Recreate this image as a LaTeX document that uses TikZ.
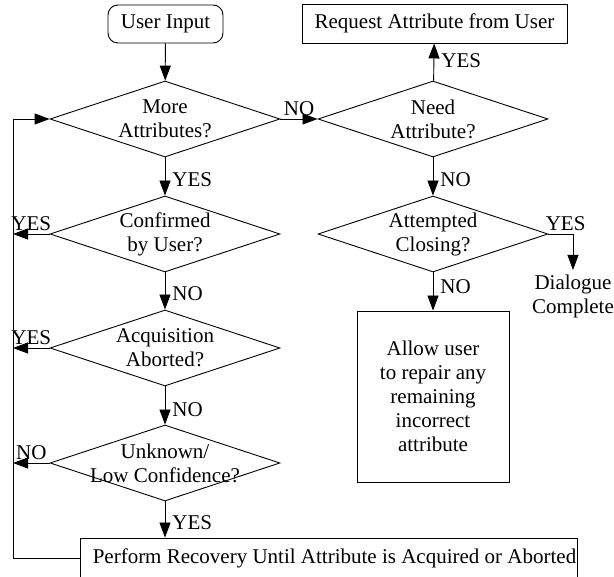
\documentclass[tikz,border=0pt]{standalone}
\usepackage{fontspec}
\setmainfont{Liberation Serif}
\usetikzlibrary{arrows.meta, shapes.geometric, positioning}

\begin{document}
\begin{tikzpicture}[
    x=1pt, y=-1pt, line width=0.9pt,
    font=\fontsize{21}{24}\selectfont,
    % Define styles for reusable components
    decision/.style={draw, diamond, minimum width=230pt, minimum height=76pt, inner sep=0pt},
    process/.style={draw, rectangle, align=center, inner sep=0pt},
    start/.style={draw, rounded corners=10pt, minimum width=115pt, minimum height=38pt},
    arrow/.style={-{Triangle[length=15pt, width=11pt]}},
    answer/.style={inner sep=4pt, xshift=3pt}
]
    \useasboundingbox (0,0) rectangle (614,577);

    % --- LEFT COLUMN: acquiring attributes ---
    \node[start] (input) at (165.5,24) {User Input};
    \node[decision, label={[align=center]center:More\\Attributes?}] (more) at (165,119) {};
    \node[decision, label={[align=center]center:Confirmed\\by User?}] (confirm) at (165,234) {};
    \node[decision, label={[align=center]center:Acquisition\\Aborted?}] (aborted) at (165,348) {};
    \node[decision, label={[align=center]center:Unknown/\\Low Confidence?}] (unknown) at (165,463) {};
    \node[process, minimum width=497pt, minimum height=41pt,
        label={[xshift=6pt]center:Perform Recovery Until Attribute is Acquired or Aborted}]
        (recover) at (328.5,558.5) {};
    \coordinate (loop) at (13,0);

    % --- RIGHT COLUMN: closing the dialogue ---
    \node[process, minimum width=265pt, minimum height=39pt] (request) at (434.5,23.5)
        {Request Attribute from User};
    \node[decision, label={[align=center]center:Need\\Attribute?}] (need) at (433,119) {};
    \node[decision, label={[align=center]center:Attempted\\Closing?}] (closing) at (433,234) {};
    \node[process, minimum width=152pt, minimum height=171pt] (allow) at (433,396.5)
        {Allow user\\to repair any\\remaining\\incorrect\\attribute};
    \node[align=center, anchor=north, inner sep=4pt] (done) at (573,270) {Dialogue\\Complete};

    % main flow
    \draw[arrow] (input) -- (more);
    \draw[arrow] (more) -- node[answer, right, pos=0.58] {YES} (confirm);
    \draw[arrow] (confirm) -- node[answer, right, pos=0.58] {NO} (aborted);
    \draw[arrow] (aborted) -- node[answer, right, pos=0.6] {NO} (unknown);
    \draw[arrow] (unknown) -- node[answer, right, pos=0.6] {YES} (unknown.south |- recover.north);

    % back to the loop line
    \draw[arrow] (confirm.west) -- node[above] {YES} (confirm.west -| loop);
    \draw[arrow] (aborted.west) -- node[above] {YES} (aborted.west -| loop);
    \draw[arrow] (unknown.west) -- node[above] {NO} (unknown.west -| loop);
    \draw[arrow] (recover.west) -- (recover.west -| loop) |- (more.west);

    % right side
    \draw[arrow] (more) -- node[above] {NO} (need);
    \draw[arrow] (need) -- node[answer, right, pos=0.55] {YES} (request);
    \draw[arrow] (need) -- node[answer, right, pos=0.58] {NO} (closing);
    \draw[arrow] (closing.east) -| node[above, pos=0.35] {YES} (done.north);
    \draw[arrow] (closing) -- node[answer, right, pos=0.38] {NO} (allow);

\end{tikzpicture}
\end{document}
